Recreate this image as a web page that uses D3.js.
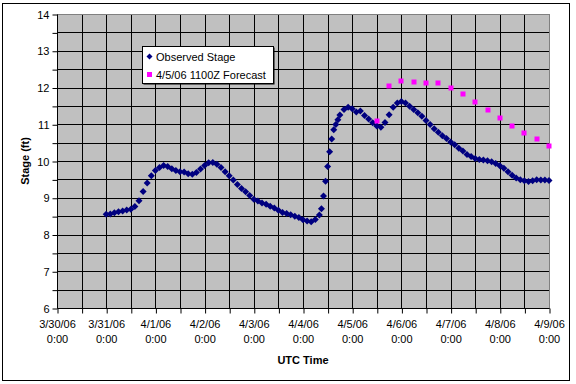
<!DOCTYPE html>
<html>
<head>
<meta charset="utf-8">
<script src="https://cdn.jsdelivr.net/npm/d3@7"></script>
<style>
  body { margin: 0; background: #ffffff; }
  svg text { font-family: "Liberation Sans", Arial, sans-serif; }
</style>
</head>
<body>
<div id="chart1"></div>
<script>
// observed stage: hours after 3/30/06 0:00 UTC, stage in ft
let obsHours = [24, 26, 28, 30, 32, 34, 36, 38, 40, 42, 44, 46,
    48, 50, 52, 54, 56, 58, 60, 62, 64, 66, 68, 70,
    72, 74, 76, 78, 80, 82, 84, 86, 88, 90, 92, 94,
    96, 98, 100, 102, 104, 106, 108, 110, 112, 114, 116, 118,
    120, 122, 124, 126, 128, 129, 130, 131, 132, 133, 134, 135, 136, 137, 138,
    140, 142, 144, 146, 148, 150, 152, 154, 156, 158, 160, 162, 164, 166,
    168, 170, 172, 174, 176, 178, 180, 182, 184, 186, 188, 190,
    192, 194, 196, 198, 200, 202, 204, 206, 208, 210, 212, 214,
    216, 218, 220, 222, 224, 226, 228, 230, 232, 234, 236, 238, 240];
let obsStage = [8.55, 8.56, 8.59, 8.62, 8.64, 8.67, 8.69, 8.76, 8.92, 9.17, 9.40, 9.60,
    9.74, 9.82, 9.88, 9.85, 9.79, 9.74, 9.71, 9.70, 9.65, 9.64, 9.69, 9.78,
    9.88, 9.95, 9.96, 9.91, 9.82, 9.71, 9.60, 9.48, 9.36, 9.25, 9.16, 9.06,
    8.96, 8.91, 8.86, 8.82, 8.77, 8.72, 8.66, 8.60, 8.57, 8.54, 8.50, 8.46,
    8.40, 8.37, 8.35, 8.41, 8.53, 8.70, 9.05, 9.45, 9.85, 10.25, 10.60, 10.85, 10.99, 11.12, 11.25,
    11.40, 11.46, 11.42, 11.33, 11.36, 11.24, 11.14, 11.04, 10.95, 10.92, 11.05, 11.26, 11.46, 11.58,
    11.62, 11.58, 11.49, 11.40, 11.31, 11.22, 11.10, 10.99, 10.88, 10.78, 10.69, 10.61,
    10.52, 10.44, 10.35, 10.27, 10.18, 10.12, 10.07, 10.04, 10.03, 10.01, 9.98, 9.93,
    9.87, 9.80, 9.71, 9.61, 9.54, 9.49, 9.46, 9.44, 9.46, 9.49, 9.48, 9.48, 9.47];

// 4/5/06 1100Z forecast
let fcHours = [156, 162, 168, 174, 180, 186, 192, 198, 204, 210, 216, 222, 228, 234, 240];
let fcStage = [11.08, 12.05, 12.19, 12.14, 12.11, 12.11, 12.00, 11.83, 11.61, 11.39, 11.17, 10.95, 10.76, 10.60, 10.42];

let yTicks = [6, 7, 8, 9, 10, 11, 12, 13, 14];
let seriesNames = ["Observed Stage", "4/5/06 1100Z Forecast"];

let width = 576;
let height = 384;
let plotLeft = 57, plotRight = 549, plotTop = 14, plotBottom = 308;

let start = Date.UTC(2006, 2, 30);
let toDate = (h) => new Date(start + h * 3600000);

let svg = d3.select("#chart1")
    .append("svg")
    .attr("width", width)
    .attr("height", height);

// chart area border
svg.append("rect")
    .attr("x", 2.5).attr("y", 3.5)
    .attr("width", 567).attr("height", 377)
    .style("fill", "white")
    .style("stroke", "black");

let x = d3.scaleUtc()
    .domain([toDate(0), toDate(240)])
    .range([plotLeft, plotRight]);
let y = d3.scaleLinear()
    .domain([6, 14])
    .range([plotBottom, plotTop]);

let px = (v) => Math.round(v) + 0.5;

// plot area
svg.append("rect")
    .attr("x", plotLeft + 0.5).attr("y", plotTop + 0.5)
    .attr("width", plotRight - plotLeft).attr("height", plotBottom - plotTop)
    .style("fill", "#c0c0c0")
    .style("stroke", "#808080");

// gridlines
let halfDays = d3.utcHour.every(12).range(toDate(12), toDate(240));
svg.append("g").selectAll("line")
    .data(halfDays).enter().append("line")
    .attr("x1", (d) => px(x(d))).attr("x2", (d) => px(x(d)))
    .attr("y1", plotTop + 1).attr("y2", plotBottom)
    .style("stroke", "black");

let halfFeet = d3.range(6.5, 14, 0.5);
svg.append("g").selectAll("line")
    .data(halfFeet).enter().append("line")
    .attr("x1", plotLeft).attr("x2", plotRight)
    .attr("y1", (d) => px(y(d))).attr("y2", (d) => px(y(d)))
    .style("stroke", "black");

// y axis
let yAxis = d3.axisLeft(y)
    .tickValues(d3.range(6, 14.01, 0.5))
    .tickSize(5)
    .tickPadding(3)
    .tickFormat((d) => yTicks.includes(d) ? d : "");
let gy = svg.append("g")
    .attr("transform", "translate(" + (plotLeft + 0.5) + ",0.5)")
    .call(yAxis);
gy.select(".domain").attr("d", "M0," + plotTop + "V" + plotBottom);

// x axis
let xAxis = d3.axisBottom(x)
    .tickValues(d3.utcHour.every(12).range(toDate(0), toDate(241)))
    .tickSize(5)
    .tickFormat("");
let gx = svg.append("g")
    .attr("transform", "translate(0.5," + (plotBottom + 0.5) + ")")
    .call(xAxis);
gx.select(".domain").attr("d", "M" + plotLeft + ",0H" + plotRight);

svg.selectAll(".domain, .tick line").style("stroke", "black");
gy.selectAll("text").style("font-size", "11px").style("fill", "black");

let days = d3.utcDay.range(toDate(0), toDate(241));
let fmtDate = d3.utcFormat("%-m/%-d/%y");
let fmtTime = d3.utcFormat("%-H:%M");
let xLabels = svg.append("g").selectAll("text")
    .data(days).enter().append("text")
    .attr("x", (d) => x(d) + 0.5)
    .attr("y", 328)
    .attr("text-anchor", "middle")
    .style("font-size", "11px");
xLabels.append("tspan").text((d) => fmtDate(d));
xLabels.append("tspan")
    .attr("x", (d) => x(d) + 0.5)
    .attr("dy", 15)
    .text((d) => fmtTime(d));

// axis titles
svg.append("text")
    .attr("x", (plotLeft + plotRight) / 2)
    .attr("y", 364)
    .attr("text-anchor", "middle")
    .style("font-size", "11px")
    .style("font-weight", "bold")
    .text("UTC Time");

svg.append("text")
    .attr("transform", "translate(29," + ((plotTop + plotBottom) / 2) + ") rotate(-90)")
    .attr("text-anchor", "middle")
    .style("font-size", "11px")
    .style("font-weight", "bold")
    .text("Stage (ft)");

let diamond = "M0,-3.5L3.5,0L0,3.5L-3.5,0Z";

// observed points
svg.append("g").selectAll("path")
    .data(obsHours).enter().append("path")
    .attr("d", diamond)
    .attr("transform", (d, i) => "translate(" + x(toDate(d)) + "," + y(obsStage[i]) + ")")
    .style("fill", "#000080");

// forecast points
svg.append("g").selectAll("rect")
    .data(fcHours).enter().append("rect")
    .attr("x", (d) => Math.round(x(toDate(d))) - 2.5)
    .attr("y", (d, i) => Math.round(y(fcStage[i])) - 2.5)
    .attr("width", 5).attr("height", 5)
    .style("fill", "#ff00ff");

// legend
let legend = svg.append("g");
legend.append("rect")
    .attr("x", 143.5).attr("y", 47.5)
    .attr("width", 131).attr("height", 37)
    .style("fill", "black");
legend.append("rect")
    .attr("x", 142.5).attr("y", 46.5)
    .attr("width", 131).attr("height", 37)
    .style("fill", "white")
    .style("stroke", "black");
legend.append("path")
    .attr("d", "M0,-3L3,0L0,3L-3,0Z")
    .attr("transform", "translate(149.5,56.5)")
    .style("fill", "#000080");
legend.append("rect")
    .attr("x", 147).attr("y", 72)
    .attr("width", 5).attr("height", 5)
    .style("fill", "#ff00ff");
legend.selectAll("text.lbl")
    .data(seriesNames).enter().append("text")
    .attr("class", "lbl")
    .attr("x", 156)
    .attr("y", (d, i) => 60.5 + i * 18)
    .style("font-size", "11px")
    .text((d) => d);
</script>
</body>
</html>
